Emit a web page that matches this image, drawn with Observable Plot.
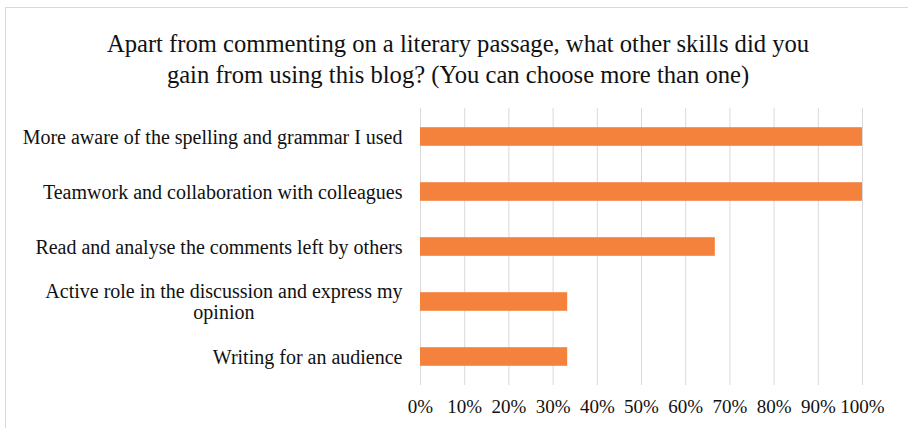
<!DOCTYPE html>
<html>
<head>
<meta charset="utf-8">
<script src="https://cdn.jsdelivr.net/npm/d3@7"></script>
<script src="https://cdn.jsdelivr.net/npm/@observablehq/plot@0.6"></script>
<style>
  html, body { margin: 0; padding: 0; background: #fff; }
  #wrap { position: relative; width: 908px; height: 428px; overflow: hidden; background: #fff; }
  #border { position: absolute; left: 5px; top: 7px; width: 960px; height: 480px; border: 1px solid #d9d9d9; box-sizing: border-box; }
  #title { position: absolute; left: 4px; top: 28px; width: 908px; text-align: center;
           font-family: "Liberation Serif", "Times New Roman", serif; font-size: 24.6px; line-height: 31px; color: #111; }
  #chart { position: absolute; left: 0; top: 100px; }
</style>
</head>
<body>
<div id="wrap">
  <div id="border"></div>
  <div id="title">Apart from commenting on a literary passage, what other skills did you<br>gain from using this blog? (You can choose more than one)</div>
  <div id="chart"></div>
</div>
<script>
const categories = [
  "More aware of the spelling and grammar I used",
  "Teamwork and collaboration with colleagues",
  "Read and analyse the comments left by others",
  "Active role in the discussion and express my opinion",
  "Writing for an audience"
];
const displayLabels = [
  "More aware of the spelling and grammar I used",
  "Teamwork and collaboration with colleagues",
  "Read and analyse the comments left by others",
  "Active role in the discussion and express my\nopinion",
  "Writing for an audience"
];
const values = [1.0, 1.0, 0.667, 0.333, 0.333];
const xTicks = [0, 0.1, 0.2, 0.3, 0.4, 0.5, 0.6, 0.7, 0.8, 0.9, 1.0];

const data = categories.map((c, i) => ({category: c, value: values[i]}));
const labelOf = new Map(categories.map((c, i) => [c, displayLabels[i]]));

const chart = Plot.plot({
  width: 908,
  height: 328,
  marginTop: 8,
  marginBottom: 43,
  marginLeft: 420,
  marginRight: 46,
  style: {fontFamily: "'Liberation Serif', 'Times New Roman', serif", color: "#111", background: "transparent"},
  x: {domain: [0, 1], ticks: xTicks},
  y: {domain: categories, padding: 0},
  marks: [
    Plot.gridX(xTicks, {stroke: "#d9d9d9", strokeOpacity: 1, strokeWidth: 1}),
    Plot.barX(data, {x: "value", y: "category", fill: "#F4823D", insetTop: 18.2, insetBottom: 18.2}),
    Plot.axisX(xTicks, {tickSize: 0, tickPadding: 14, fontSize: 19, tickFormat: d3.format(".0%"), label: null}),
    Plot.axisY({tickSize: 0, tickPadding: 18, fontSize: 20, lineHeight: 1.05, tickFormat: d => labelOf.get(d), label: null})
  ]
});
document.getElementById("chart").appendChild(chart);

// center wrapped second lines under the first line, as in the reference
chart.querySelectorAll("text").forEach(t => {
  const spans = t.querySelectorAll("tspan");
  if (spans.length > 1) {
    const w1 = spans[0].getComputedTextLength();
    for (let i = 1; i < spans.length; i++) {
      spans[i].setAttribute("text-anchor", "middle");
      spans[i].setAttribute("x", -w1 / 2);
    }
  }
});
</script>
</body>
</html>
